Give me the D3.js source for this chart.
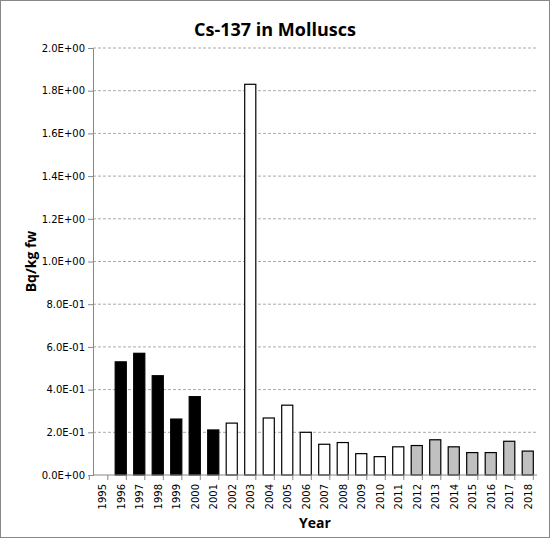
<!DOCTYPE html>
<html><head><meta charset="utf-8">
<script src="https://cdn.jsdelivr.net/npm/d3@7"></script>
<style>body{margin:0;background:#fff}</style>
</head><body>
<script>
var years = ["1995","1996","1997","1998","1999","2000","2001","2002","2003","2004","2005","2006","2007","2008","2009","2010","2011","2012","2013","2014","2015","2016","2017","2018"];
var values = [null,0.53,0.57,0.465,0.262,0.367,0.211,0.243,1.83,0.267,0.327,0.2,0.144,0.152,0.1,0.086,0.132,0.138,0.165,0.132,0.105,0.105,0.158,0.112];
var groups = ["none","a","a","a","a","a","a","b","b","b","b","b","b","b","b","b","b","c","c","c","c","c","c","c"];
var fills = {none:"none", a:"#000000", b:"#ffffff", c:"#c0c0c0"};
var yTicks = [0,0.2,0.4,0.6,0.8,1.0,1.2,1.4,1.6,1.8,2.0];

var W=550,H=538, m={l:93,r:13,t:48,b:63};
var svg=d3.select("body").append("svg").attr("width",W).attr("height",H);
svg.append("rect").attr("x",0.5).attr("y",0.5).attr("width",W-1).attr("height",H-1).attr("fill","#fff").attr("stroke","#888");

var x=d3.scaleBand().domain(years).range([m.l,W-m.r]).paddingInner(0.4).paddingOuter(0.2);
var y=d3.scaleLinear().domain([0,2]).range([H-m.b,m.t]);

svg.selectAll(".grid").data(yTicks.slice(1)).enter().append("line")
  .attr("x1",m.l).attr("x2",W-m.r).attr("y1",d=>y(d)).attr("y2",d=>y(d))
  .attr("stroke","#aaa").attr("stroke-dasharray","3,2");

svg.selectAll(".bar").data(years).enter().filter((d,i)=>values[i]!=null).append("rect")
  .attr("x",d=>x(d)).attr("width",x.bandwidth())
  .attr("y",d=>y(values[years.indexOf(d)])).attr("height",d=>y(0)-y(values[years.indexOf(d)]))
  .attr("fill",d=>fills[groups[years.indexOf(d)]]).attr("stroke","#000").attr("stroke-width",1.2);

var ya=svg.append("g").attr("transform","translate("+m.l+",0)")
  .call(d3.axisLeft(y).tickValues(yTicks).tickSize(5).tickFormat(d=>{
    if(d===0) return "0.0E+00";
    var e=Math.floor(Math.log10(d)+1e-9), mant=d/Math.pow(10,e);
    return mant.toFixed(1)+"E"+(e<0?"-":"+")+String(Math.abs(e)).padStart(2,"0");
  }));
ya.selectAll("text").style("font-family","DejaVu Sans").style("font-size","10px").attr("fill","#000");
ya.selectAll("line,path").attr("stroke","#888");

var step=x.step();
var xa=svg.append("g").attr("transform","translate(0,"+y(0)+")");
xa.append("line").attr("x1",m.l).attr("x2",W-m.r).attr("stroke","#888");
xa.selectAll(".t").data(d3.range(years.length+1)).enter().append("line")
  .attr("x1",i=>x(years[0])-x.paddingOuter()*step+0*step+i*step-x.paddingInner()*step/2+x.paddingInner()*step/2- (x.bandwidth()*0) - (step-x.bandwidth())/2 + 0)
  .attr("x2",function(){return d3.select(this).attr("x1");})
  .attr("y1",0).attr("y2",5).attr("stroke","#888");
xa.selectAll("text").data(years).enter().append("text")
  .attr("transform",d=>"translate("+(x(d)+x.bandwidth()/2+4)+",9) rotate(-90)")
  .attr("text-anchor","end").style("font-family","DejaVu Sans").style("font-size","10px").text(d=>d);

svg.append("text").attr("x",W/2).attr("y",36).attr("text-anchor","middle")
  .style("font-family","Open Sans").style("font-weight","bold").style("font-size","18px").text("Cs-137 in Molluscs");
svg.append("text").attr("x",(m.l+W-m.r)/2).attr("y",528).attr("text-anchor","middle")
  .style("font-family","Open Sans").style("font-weight","bold").style("font-size","14px").text("Year");
svg.append("text").attr("transform","translate(36,"+((m.t+H-m.b)/2)+") rotate(-90)").attr("text-anchor","middle")
  .style("font-family","Open Sans").style("font-weight","bold").style("font-size","14px").text("Bq/kg fw");
</script>
</body></html>
